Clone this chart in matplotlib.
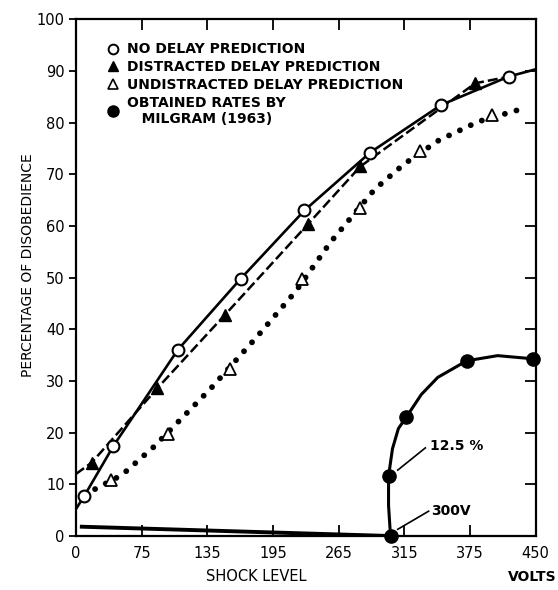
import matplotlib.pyplot as plt
from matplotlib.lines import Line2D

# x positions are tick slots (0..7), labelled with the shock levels
tick_labels = ['0', '75', '135', '195', '265', '315', '375', '450']

# no delay prediction (open circles, solid line)
no_delay_x = [0.13, 0.57, 1.55, 2.51, 3.48, 4.48, 5.56, 6.59]
no_delay_y = [7.8, 17.4, 36.0, 49.8, 63.0, 74.2, 83.4, 88.9]
no_delay_line_x = [0.0] + no_delay_x + [7.0]
no_delay_line_y = [5.2] + no_delay_y + [90.3]

# distracted delay prediction (filled triangles, dashed line)
distracted_x = [0.24, 1.24, 2.27, 3.53, 4.33, 6.08]
distracted_y = [14.2, 28.6, 42.8, 60.3, 71.5, 87.6]
distracted_line_x = [0.0] + distracted_x + [6.6]
distracted_line_y = [12.0] + distracted_y + [88.9]

# undistracted delay prediction (open triangles, dotted line)
undistracted_x = [0.53, 1.40, 2.35, 3.45, 4.33, 5.24, 6.33]
undistracted_y = [10.8, 19.7, 32.3, 49.8, 63.4, 74.4, 81.4]
dotted_x = [0.13, 0.70, 1.19, 2.05, 2.76, 3.35, 3.88, 4.55, 5.00, 5.53, 6.13, 6.86]
dotted_y = [8.0, 11.8, 17.3, 28.5, 38.6, 47.4, 56.9, 67.1, 72.0, 76.6, 80.2, 82.9]

# obtained rates by Milgram (1963)
milgram_x = [4.79, 4.76, 5.03, 5.95, 6.96]
milgram_y = [0.0, 11.6, 23.0, 33.9, 34.3]
milgram_curve_x = [4.79, 4.76, 4.76, 4.82, 4.91, 5.03, 5.26, 5.51, 5.95, 6.42, 6.77, 6.96]
milgram_curve_y = [0.0, 5.9, 11.6, 16.9, 20.8, 23.0, 27.4, 30.7, 33.9, 34.9, 34.5, 34.3]
baseline_x = [0.09, 4.79]
baseline_y = [1.8, 0.0]

fig = plt.figure(figsize=(5.58, 5.9), dpi=100)
ax = fig.add_axes([0.136, 0.0915, 0.824, 0.876])

# curves
ax.plot(no_delay_line_x, no_delay_line_y, color='black', lw=1.9, zorder=2)
ax.plot(distracted_line_x, distracted_line_y, color='black', lw=1.8,
        linestyle=(0, (4, 1.6)), zorder=2)
ax.plot(dotted_x, dotted_y, color='black', lw=4.2, linestyle=(0, (0.01, 2.05)),
        dash_capstyle='round', zorder=2)
ax.plot(milgram_curve_x, milgram_curve_y, color='black', lw=2.2, zorder=2)
ax.plot(baseline_x, baseline_y, color='black', lw=2.8, zorder=2)

# markers
ax.plot(no_delay_x, no_delay_y, 'o', ms=8.5, mfc='white', mec='black', mew=1.5, zorder=4)
ax.plot(distracted_x, distracted_y, '^', ms=8, color='black', zorder=4)
ax.plot(undistracted_x, undistracted_y, '^', ms=8, mfc='white', mec='black', mew=1.3, zorder=4)
ax.plot(milgram_x, milgram_y, 'o', ms=9.5, color='black', zorder=4, clip_on=False)

# callouts on the Milgram curve
ax.plot([4.90, 5.32], [12.75, 17.05], color='black', lw=1.2)
ax.text(5.39, 17.5, '12.5 %', fontsize=10, fontweight='bold', ha='left', va='center')
ax.plot([4.90, 5.37], [1.3, 4.8], color='black', lw=1.2)
ax.text(5.41, 4.9, '300V', fontsize=10, fontweight='bold', ha='left', va='center')

# axes
ax.set_xlim(0, 7)
ax.set_ylim(0, 100)
ax.set_xticks(range(len(tick_labels)))
ax.set_xticklabels(tick_labels)
ax.set_yticks(range(0, 101, 10))
ax.tick_params(axis='x', direction='in', top=True, length=8, width=1.3, pad=7, labelsize=10.5)
ax.tick_params(axis='y', direction='out', right=False, length=5, width=1.3, pad=3, labelsize=10.5)
for s in ax.spines.values():
    s.set_linewidth(1.6)

ax_r = ax.twinx()
ax_r.set_ylim(0, 100)
ax_r.set_yticks(range(0, 101, 10))
ax_r.tick_params(axis='y', direction='in', length=8, width=1.3, labelright=False)
for s in ax_r.spines.values():
    s.set_visible(False)

ax.set_ylabel('PERCENTAGE OF DISOBEDIENCE', fontsize=10)
ax.yaxis.set_label_coords(-0.088, 0.524)
ax.text(0.393, -0.079, 'SHOCK LEVEL', transform=ax.transAxes, fontsize=10.5,
        ha='center', va='center')
fig.text(0.997, 0.022, 'VOLTS', fontsize=10, fontweight='bold', ha='right', va='center')

# legend
handles = [
    Line2D([], [], ls='none', marker='o', ms=7, mfc='white', mec='black', mew=1.4),
    Line2D([], [], ls='none', marker='^', ms=7, color='black'),
    Line2D([], [], ls='none', marker='^', ms=7, mfc='white', mec='black', mew=1.2),
    Line2D([], [], ls='none', marker='o', ms=8, color='black'),
]
labels = ['NO DELAY PREDICTION', 'DISTRACTED DELAY PREDICTION',
          'UNDISTRACTED DELAY PREDICTION', 'OBTAINED RATES BY\n   MILGRAM (1963)']
ax.legend(handles, labels, loc='upper left', bbox_to_anchor=(0.068, 0.955),
          frameon=False, borderpad=0, borderaxespad=0, handlelength=0.8,
          handletextpad=0.6, labelspacing=0.27,
          prop={'size': 10, 'weight': 'bold'})

fig.savefig('out.png', dpi=100)
